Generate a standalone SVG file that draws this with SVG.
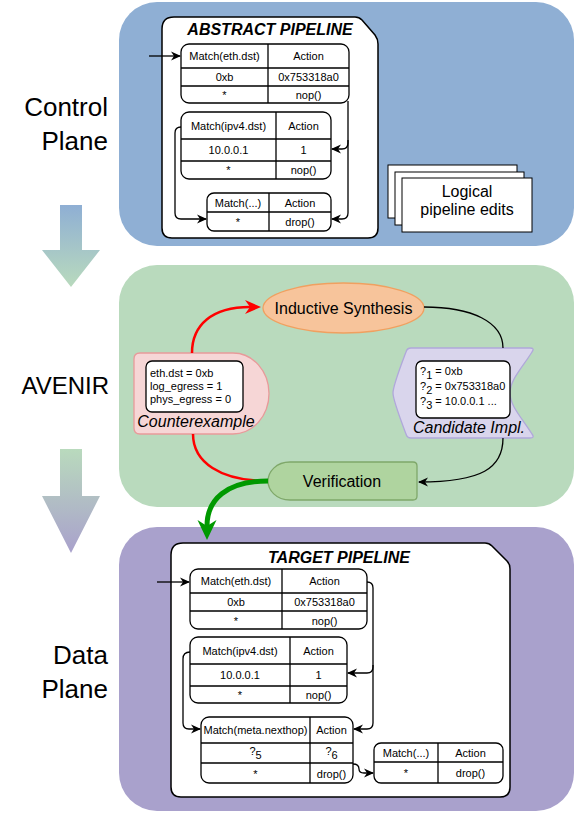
<svg xmlns="http://www.w3.org/2000/svg" width="576" height="813" viewBox="0 0 576 813">
<style>
.f{font-family:"Liberation Sans",Arial,Helvetica,sans-serif}
.t11{font-family:"Liberation Sans",Arial,sans-serif;font-size:11px;text-anchor:middle;fill:#000}
.big{font-family:"Liberation Sans",Arial,sans-serif;font-size:26px;text-anchor:end;fill:#000}
.title{font-family:"Liberation Sans",Arial,sans-serif;font-size:16px;font-weight:bold;font-style:italic;text-anchor:middle}
.lbl{font-family:"Liberation Sans",Arial,sans-serif;font-size:16px;text-anchor:middle;fill:#000}
.tb{fill:#fff;stroke:#000;stroke-width:1.3}
.ln{stroke:#000;stroke-width:1.3;fill:none}
.conn{fill:none;stroke:#000;stroke-width:1.3}
.cont{fill:#fff;stroke:#000;stroke-width:1.5}
.doc{fill:#fff;stroke:#000;stroke-width:1}
</style>
<defs>
<linearGradient id="g1" x1="0" y1="0" x2="0" y2="1"><stop offset="0" stop-color="#8FAFD4"/><stop offset="1" stop-color="#B9DABD"/></linearGradient>
<linearGradient id="g2" x1="0" y1="0" x2="0" y2="1"><stop offset="0" stop-color="#B9DABD"/><stop offset="1" stop-color="#A9A1CC"/></linearGradient>
<marker id="ah" viewBox="0 0 10 10" refX="9" refY="5" markerWidth="10" markerHeight="10" markerUnits="userSpaceOnUse" orient="auto"><path d="M0,0.5 L10,5 L0,9.5 L3,5 z" fill="#000"/></marker>
<marker id="ahr" viewBox="0 0 16 16" refX="5" refY="8" markerWidth="16" markerHeight="16" markerUnits="userSpaceOnUse" orient="auto"><path d="M0,1 L16,8 L0,15 L5,8 z" fill="#FF0000"/></marker>
<marker id="ahg" viewBox="0 0 20 20" refX="6" refY="10" markerWidth="20" markerHeight="20" markerUnits="userSpaceOnUse" orient="auto"><path d="M0,0.5 L20,10 L0,19.5 L6,10 z" fill="#009900"/></marker>
</defs>

<!-- panels -->
<g id="panel-control"><rect x="119" y="2" width="455" height="244" rx="38" fill="#8FAFD4"/></g>
<g id="panel-avenir"><rect x="119" y="265" width="455" height="242" rx="38" fill="#B9DABD"/></g>
<g id="panel-data"><rect x="119" y="527" width="455" height="284" rx="38" fill="#A9A1CC"/></g>

<!-- left labels -->
<g id="label-control"><text class="big" x="108" y="116">Control</text><text class="big" x="108" y="150">Plane</text></g>
<g id="label-avenir"><text class="big" x="109" y="394" style="font-size:24px">AVENIR</text></g>
<g id="label-data"><text class="big" x="108" y="664">Data</text><text class="big" x="108" y="698">Plane</text></g>
<g id="flow-arrow-1"><polygon points="60,205 82,205 82,250 100,250 71,287 42,250 60,250" fill="url(#g1)"/></g>
<g id="flow-arrow-2"><polygon points="60,449 82,449 82,496 100,496 71,553 42,496 60,496" fill="url(#g2)"/></g>

<!-- abstract pipeline -->
<g id="abstract-pipeline">
<path class="cont" d="M174 17 L355 17 Q359 17 362 20 L375 35 Q378 39 378 44 L378 228 Q378 238 368 238 L172 238 Q162 238 162 228 L162 29 Q162 17 174 17 Z"/>
<text class="title" x="270" y="35">ABSTRACT PIPELINE</text>
</g>
<g id="a-table1">
<rect class="tb" x="181" y="44" width="168" height="59" rx="8"/>
<path class="ln" d="M181 68 H349 M181 86 H349 M268 44 V103"/>
<text class="t11" x="224.5" y="60">Match(eth.dst)</text><text class="t11" x="308.5" y="60">Action</text>
<text class="t11" x="224.5" y="81">0xb</text><text class="t11" x="308.5" y="81">0x753318a0</text>
<text class="t11" x="224.5" y="99">*</text><text class="t11" x="308.5" y="99">nop()</text>
</g>
<g id="a-table2">
<rect class="tb" x="181" y="112" width="150" height="67" rx="8"/>
<path class="ln" d="M181 139 H331 M181 161 H331 M276 112 V179"/>
<text class="t11" x="228.5" y="130">Match(ipv4.dst)</text><text class="t11" x="303.5" y="130">Action</text>
<text class="t11" x="228.5" y="154">10.0.0.1</text><text class="t11" x="303.5" y="154">1</text>
<text class="t11" x="228.5" y="174">*</text><text class="t11" x="303.5" y="174">nop()</text>
</g>
<g id="a-table3">
<rect class="tb" x="207" y="193" width="124" height="38" rx="7"/>
<path class="ln" d="M207 212 H331 M269 193 V231"/>
<text class="t11" x="238" y="206.5">Match(...)</text><text class="t11" x="300" y="206.5">Action</text>
<text class="t11" x="238" y="226">*</text><text class="t11" x="300" y="226">drop()</text>
</g>
<g id="logical-edits">
<rect class="doc" x="388" y="165" width="129" height="53"/>
<rect class="doc" x="395" y="172" width="129" height="53"/>
<rect class="doc" x="402" y="178" width="130" height="54"/>
<text class="lbl" x="467" y="197">Logical</text>
<text class="lbl" x="467" y="215">pipeline edits</text>
</g>

<!-- avenir nodes -->
<g id="inductive-synthesis">
<ellipse cx="343.5" cy="308" rx="80.5" ry="25" fill="#F7C49B" stroke="#F0A060" stroke-width="1.3"/>
<text class="lbl" x="343.5" y="314">Inductive Synthesis</text>
</g>
<g id="counterexample">
<path d="M140 353 L233 353 A36 40.5 0 0 1 233 434 L140 434 Q134 434 134 428 L134 359 Q134 353 140 353 Z" fill="#F6D6D6" stroke="#E89A9A" stroke-width="1.3"/>
<rect class="tb" x="146" y="361" width="97" height="51" rx="6" stroke-width="1.5"/>
<text class="f" font-size="11" x="150" y="377">eth.dst = 0xb</text>
<text class="f" font-size="11" x="150" y="390">log_egress = 1</text>
<text class="f" font-size="11" x="150" y="403">phys_egress = 0</text>
<text class="lbl" font-style="italic" x="196" y="427">Counterexample</text>
</g>
<g id="candidate">
<path d="M411 348 L530 348 Q535 348 532 352 C522 368 510 380 510 393 C510 406 522 418 532 434 Q535 438 530 438 L411 438 Q407 438 406 434 C400 418 393 400 393 393 C393 386 400 368 406 352 Q407 348 411 348 Z" fill="#D9D5EC" stroke="#B0A8DA" stroke-width="1.3"/>
<rect class="tb" x="416" y="361" width="94" height="57" rx="6" stroke-width="1.5"/>
<text class="f" font-size="11" x="420" y="375">?<tspan dy="4">1</tspan><tspan dy="-4"> = 0xb</tspan></text>
<text class="f" font-size="11" x="420" y="390">?<tspan dy="4">2</tspan><tspan dy="-4"> = 0x753318a0</tspan></text>
<text class="f" font-size="11" x="420" y="405">?<tspan dy="4">3</tspan><tspan dy="-4"> = 10.0.0.1 ...</tspan></text>
<text class="lbl" font-style="italic" x="469" y="433">Candidate Impl.</text>
</g>
<g id="verification">
<path d="M290 462 L413 462 Q417 462 417 466 L417 496 Q417 500 413 500 L290 500 C276 500 268 490 268 481 C268 472 276 462 290 462 Z" fill="#AFD49F" stroke="#7FA86A" stroke-width="1.3"/>
<text class="lbl" x="342" y="487">Verification</text>
</g>

<!-- target pipeline -->
<g id="target-pipeline">
<path class="cont" d="M183 543 L485 543 Q489 543 492 546 L507 561 Q510 564 510 569 L510 787 Q510 797 500 797 L181 797 Q171 797 171 787 L171 555 Q171 543 183 543 Z"/>
<text class="title" x="339" y="563">TARGET PIPELINE</text>
</g>
<g id="t-table1">
<rect class="tb" x="190" y="569" width="177" height="60" rx="8"/>
<path class="ln" d="M190 593 H367 M190 611 H367 M282 569 V629"/>
<text class="t11" x="236" y="585">Match(eth.dst)</text><text class="t11" x="324.5" y="585">Action</text>
<text class="t11" x="236" y="606">0xb</text><text class="t11" x="324.5" y="606">0x753318a0</text>
<text class="t11" x="236" y="625">*</text><text class="t11" x="324.5" y="625">nop()</text>
</g>
<g id="t-table2">
<rect class="tb" x="190" y="637" width="157" height="66" rx="8"/>
<path class="ln" d="M190 664 H347 M190 686 H347 M290 637 V703"/>
<text class="t11" x="240" y="654.5">Match(ipv4.dst)</text><text class="t11" x="318.5" y="654.5">Action</text>
<text class="t11" x="240" y="679">10.0.0.1</text><text class="t11" x="318.5" y="679">1</text>
<text class="t11" x="240" y="699">*</text><text class="t11" x="318.5" y="699">nop()</text>
</g>
<g id="t-table3">
<rect class="tb" x="201" y="717" width="152" height="66" rx="8"/>
<path class="ln" d="M201 743 H353 M201 763 H353 M310 717 V783"/>
<text class="t11" x="255.5" y="734">Match(meta.nexthop)</text><text class="t11" x="331.5" y="734">Action</text>
<text class="t11" x="255.5" y="755">?<tspan dy="4">5</tspan></text><text class="t11" x="331.5" y="755">?<tspan dy="4">6</tspan></text>
<text class="t11" x="255.5" y="778">*</text><text class="t11" x="331.5" y="778">drop()</text>
</g>
<g id="t-table4">
<rect class="tb" x="374" y="743" width="129" height="40" rx="7"/>
<path class="ln" d="M374 762 H503 M438 743 V783"/>
<text class="t11" x="406" y="756.5">Match(...)</text><text class="t11" x="470.5" y="756.5">Action</text>
<text class="t11" x="406" y="777">*</text><text class="t11" x="470.5" y="777">drop()</text>
</g>

<!-- connectors -->
<g id="connectors">
<path class="conn" d="M149 56 L180 56" marker-end="url(#ah)"/>
<path class="conn" d="M348 101 L348 143 Q348 149 342 149 L332 149" marker-end="url(#ah)"/>
<path class="conn" d="M348 140 L348 213 Q348 219 342 219 L332 219" marker-end="url(#ah)"/>
<path class="conn" d="M181 127 Q175 127 175 133 L175 213 Q175 219 181 219 L206 219" marker-end="url(#ah)"/>

<path class="conn" d="M157 582 L189 582" marker-end="url(#ah)"/>
<path class="conn" d="M367 582 Q373 582 373 588 L373 667 Q373 673 367 673 L348 673" marker-end="url(#ah)"/>
<path class="conn" d="M373 665 L373 723 Q373 729 367 729 L354 729" marker-end="url(#ah)"/>
<path class="conn" d="M190 652 Q183 652 183 659 L183 723 Q183 729 189 729 L200 729" marker-end="url(#ah)"/>
<path class="conn" d="M353 764 Q359 764 359 769 Q359 773 364 773 L373 773" marker-end="url(#ah)"/>

<path d="M192 353 C192 325 212 307 250 307" fill="none" stroke="#FF0000" stroke-width="2.5" marker-end="url(#ahr)"/>
<path d="M193 434 C193 462 220 481 268 481" fill="none" stroke="#FF0000" stroke-width="2.5"/>
<path class="conn" d="M424 307 C472 307 503 322 503 348"/>
<path class="conn" d="M503 438 C503 468 482 482 419 482" marker-end="url(#ah)"/>
<path d="M268 481 C226 481 207 500 207 526" fill="none" stroke="#009900" stroke-width="5" marker-end="url(#ahg)"/>
</g>
</svg>
